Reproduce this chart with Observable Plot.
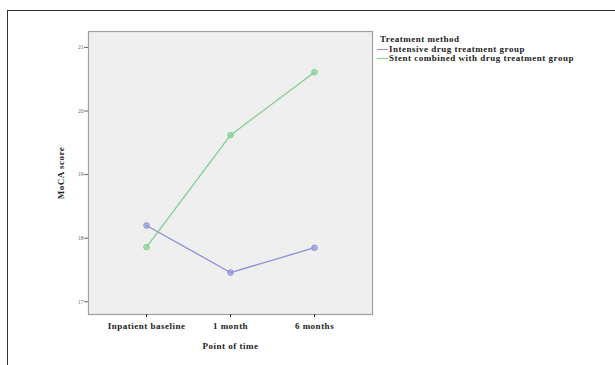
<!DOCTYPE html>
<html>
<head>
<meta charset="utf-8">
<script src="https://cdn.jsdelivr.net/npm/d3@7"></script>
<script src="https://cdn.jsdelivr.net/npm/@observablehq/plot@0.6"></script>
<style>
  html, body { margin: 0; padding: 0; background: #fff; }
  #wrap { position: relative; width: 615px; height: 365px; overflow: hidden; }
  #border { position: absolute; left: 7px; top: 10px; width: 700px; height: 400px;
            border-top: 1.5px solid #333; border-left: 1.5px solid #333; }
  #legend { position: absolute; left: 377px; top: 35px; font-family: "Liberation Serif", serif;
            font-size: 9px; font-weight: bold; color: #222; line-height: 9px; letter-spacing: 0.5px; }
  #legend .title { margin-left: 3px; margin-bottom: 1px; }
  #legend .item { display: flex; align-items: center; white-space: nowrap; }
  #legend .sw { display: inline-block; width: 11px; height: 0; border-top: 1px solid; margin-right: 1px; }
  svg text.big { letter-spacing: 0.5px; }
</style>
</head>
<body>
<div id="wrap">
  <div id="border"></div>
  <div id="chart"></div>
  <div id="legend"></div>
</div>
<script>
const times = ["Inpatient baseline", "1 month", "6 months"];
const groups = ["Intensive drug treatment group", "Stent combined with drug treatment group"];
const intensive = [18.2, 17.46, 17.85];
const stent = [17.86, 19.62, 20.61];
const yTicks = [17, 18, 19, 20, 21];
const colors = ["#8a8fd8", "#7fcf90"];
const legendTitle = "Treatment method";

const data = [];
times.forEach((t, i) => {
  data.push({time: t, group: groups[0], score: intensive[i]});
  data.push({time: t, group: groups[1], score: stent[i]});
});

const chart = Plot.plot({
  width: 615,
  height: 365,
  marginLeft: 88,
  marginRight: 243,
  marginTop: 31,
  marginBottom: 51,
  style: {fontFamily: "'Liberation Serif', serif", fontSize: "8px", background: "transparent"},
  x: {type: "point", domain: times, padding: 0.68, label: null},
  y: {domain: [16.8, 21.25], label: null},
  color: {domain: groups, range: colors},
  marks: [
    Plot.frame({fill: "#efefef", stroke: "#a0a0a0", strokeWidth: 1.2}),
    Plot.axisY({ticks: yTicks, tickSize: 4, tickFormat: d => d, fontSize: 5.5, color: "#666",
                tickPadding: 1, label: "MoCA score", labelAnchor: "center", labelArrow: "none",
                labelOffset: 31}),
    Plot.axisX({tickSize: 3, tickPadding: 5, fontSize: 9, fontWeight: "bold", color: "#222",
                label: "Point of time", labelAnchor: "center", labelArrow: "none", labelOffset: 34}),
    Plot.line(data, {x: "time", y: "score", z: "group", stroke: "group", strokeWidth: 1.3}),
    Plot.dot(data, {x: "time", y: "score", stroke: "group", fill: "group", fillOpacity: 0.6, r: 2.8, strokeWidth: 1})
  ]
});
chart.querySelectorAll("g[aria-label='y-axis label'] text, g[aria-label='x-axis label'] text").forEach(t => {
  t.setAttribute("font-weight", "bold");
  t.setAttribute("fill", "#222");
  t.setAttribute("font-size", "9");
  t.classList.add("big");
});
chart.querySelectorAll("g[aria-label='x-axis tick label'] text").forEach(t => t.classList.add("big"));
document.getElementById("chart").appendChild(chart);

const lg = document.getElementById("legend");
const title = document.createElement("div");
title.className = "title";
title.textContent = legendTitle;
lg.appendChild(title);
groups.forEach((g, i) => {
  const it = document.createElement("div");
  it.className = "item";
  const sw = document.createElement("span");
  sw.className = "sw";
  sw.style.borderColor = colors[i];
  it.appendChild(sw);
  it.appendChild(document.createTextNode(g));
  lg.appendChild(it);
});
</script>
</body>
</html>
